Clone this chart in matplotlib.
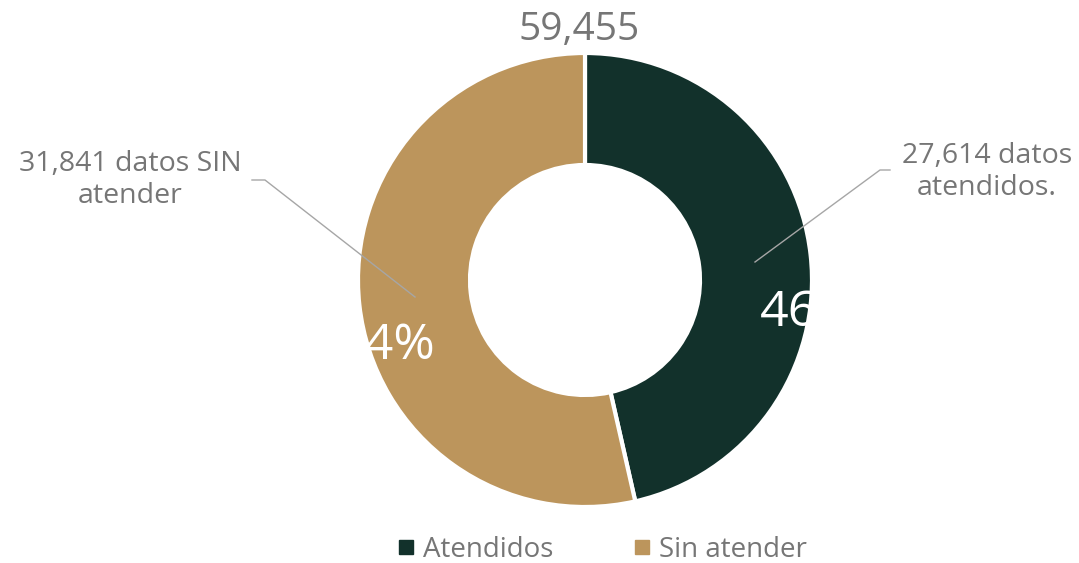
import matplotlib.pyplot as plt
from matplotlib.lines import Line2D

# datos
categorias = ['Atendidos', 'Sin atender']
valores = [27614, 31841]
colores = ['#12312B', '#BC955C']
etiquetas = ['27,614 datos\natendidos.', '31,841 datos SIN\natender']

total = sum(valores)
gris = '#767676'
plt.rcParams['font.family'] = ['Open Sans', 'DejaVu Sans']

W, H = 1079, 563
fig = plt.figure(figsize=(W / 100, H / 100), dpi=100)
ax = fig.add_axes([0, 0, 1, 1])

cx, cy, r = 585, H - 280, 227
ax.pie(valores, colors=colores, startangle=90, counterclock=False,
       radius=r, center=(cx, cy),
       wedgeprops=dict(width=112, edgecolor='white', linewidth=3))
ax.set_xlim(0, W)
ax.set_ylim(0, H)
ax.set_aspect('equal')
ax.axis('off')

# porcentajes (blanco, se pierden fuera del anillo)
pct = [v / total * 100 for v in valores]
ax.text(809, H - 313, f'{pct[0]:.0f}%', color='white', fontsize=36,
        ha='center', va='center')
ax.text(386, H - 346, f'{pct[1]:.0f}%', color='white', fontsize=36,
        ha='center', va='center')

# total arriba
ax.text(579, H - 30, f'{total:,}', color=gris, fontsize=28,
        ha='center', va='center')

# lineas guia y etiquetas
ax.plot([755, 880, 890], [H - 262, H - 170, H - 170], color='#A6A6A6', lw=1)
ax.text(987, H - 172, etiquetas[0], color=gris, fontsize=20.5,
        ha='center', va='center', linespacing=1.2)
ax.plot([415, 265, 252], [H - 297, H - 180, H - 180], color='#A6A6A6', lw=1)
ax.text(130, H - 180, etiquetas[1], color=gris, fontsize=20.5,
        ha='center', va='center', linespacing=1.2)

handles = [Line2D([], [], marker='s', ls='', color=c, markersize=10) for c in colores]
fig.legend(handles, categorias, loc='center', bbox_to_anchor=(601 / W, 1 - 550 / H),
           ncol=2, frameon=False, fontsize=20, labelcolor=gris,
           handletextpad=0.2, columnspacing=2.8, handlelength=0.8)

fig.savefig('out.png', dpi=100, facecolor='white')
